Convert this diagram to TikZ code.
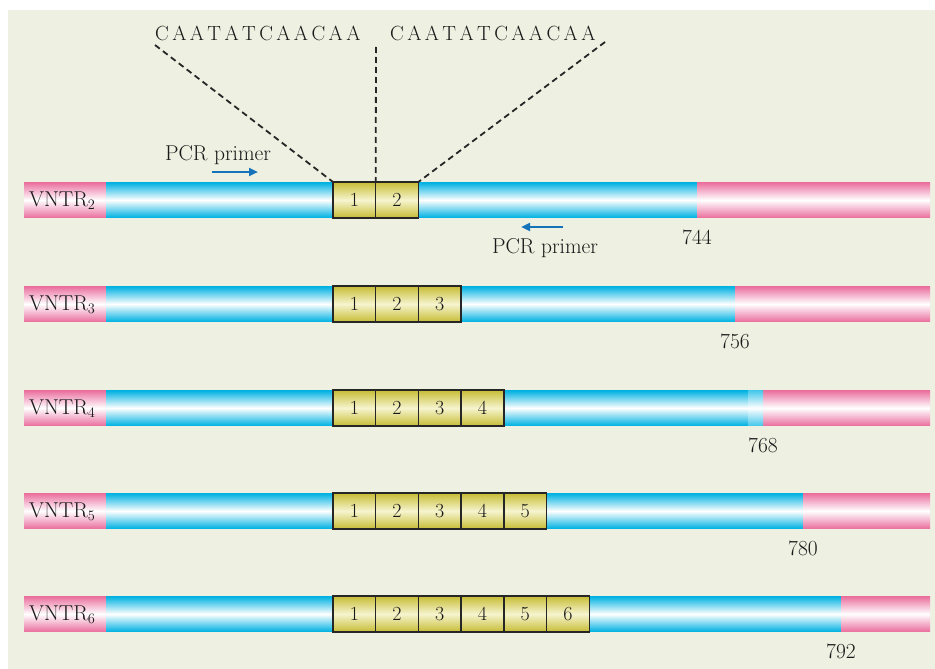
\documentclass[tikz,border=0pt]{standalone}
\usepackage{fontspec}
\usepackage{tikz}
\usetikzlibrary{arrows.meta,calc}

\definecolor{bgcol}{RGB}{238,240,225}
\definecolor{dnablue}{RGB}{0,178,226}
\definecolor{lightblue}{RGB}{70,200,235}
\definecolor{dnapink}{RGB}{234,112,158}
\definecolor{repcol}{RGB}{198,188,52}
\definecolor{replight}{RGB}{246,244,206}
\definecolor{primercol}{RGB}{20,115,185}

% letter spaced repeat sequence
\newcommand{\sk}{\kern3.4pt}
\newcommand{\repseq}{C\sk A\sk A\sk T\sk A\sk T\sk C\sk A\sk A\sk C\sk A\sk A}

\tikzset{
  labeltext/.style={font=\fontsize{21.5}{24}\selectfont, text=black!90, inner sep=0pt},
  seqtext/.style={font=\fontsize{20.5}{23}\selectfont, text=black!90, inner sep=0pt},
  repbox/.style={draw=black!85, line width=1.4pt, minimum width=42.7pt, minimum height=36pt,
    inner sep=0pt, outer sep=0pt, top color=repcol, bottom color=repcol, middle color=replight,
    font=\fontsize{20}{22}\selectfont, text=black!90},
  primer/.style={-{Triangle[length=9pt,width=8pt]}, line width=2.4pt, primercol},
  linkline/.style={dash pattern=on 6pt off 4pt, line width=1.8pt, black!85}
}

\begin{document}
\begin{tikzpicture}[x=1pt,y=-1pt]

% Page and background
\useasboundingbox (0,0) rectangle (935,669);
\fill[bgcol] (8,10) rectangle (935,669);

% Alleles with 2 to 6 repeats
\foreach \n/\y/\p in {2/200/697, 3/304/735, 4/408/763, 5/511/803, 6/614/841}{
  \pgfmathtruncatemacro{\len}{720+12*\n}
  % flanking pieces
  \shade[top color=dnapink, bottom color=dnapink, middle color=white] (24,\y-17.5) rectangle (106,\y+17.5);
  \shade[top color=dnablue, bottom color=dnablue, middle color=white] (106,\y-17.5) rectangle (\p,\y+17.5);
  \shade[top color=dnapink, bottom color=dnapink, middle color=white] (\p,\y-17.5) rectangle (930,\y+17.5);
  \node[labeltext, anchor=west] (name\n) at (29,\y+1) {VNTR$_{\n}$};
  \node[labeltext, anchor=north] (len\n) at (\p,\y+30) {\len};
  % repeat units
  \foreach \k in {1,...,\n}{
    \node[repbox] (b\n-\k) at ({333+42.7*(\k-0.5)},\y) {\k};
  }
}

% Extra lighter piece on the 4 repeat allele
\shade[top color=lightblue, bottom color=lightblue, middle color=white] (748,408-17.5) rectangle (763,408+17.5);

% Repeat sequences
\node[seqtext, anchor=west] (seqL) at (155,33) {\repseq};
\node[seqtext, anchor=west] (seqR) at (390,33) {\repseq};
\coordinate (topL) at (155,45);
\coordinate (topM) at (376,47);
\coordinate (topR) at (605,42);

% Dashed expansion lines
\draw[linkline] (topL) -- (b2-1.north west);
\draw[linkline] (topM) -- (b2-1.north east);
\draw[linkline] (topR) -- (b2-2.north east);

% PCR primers
\coordinate (fwdA) at (212,172);
\coordinate (fwdB) at (258,172);
\coordinate (revA) at (563,227);
\coordinate (revB) at (521,227);
\draw[primer] (fwdA) -- (fwdB);
\draw[primer] (revA) -- (revB);
\node[labeltext] (fwdtext) at (218,155) {PCR primer};
\node[labeltext] (revtext) at (545,248) {PCR primer};

\end{tikzpicture}
\end{document}
